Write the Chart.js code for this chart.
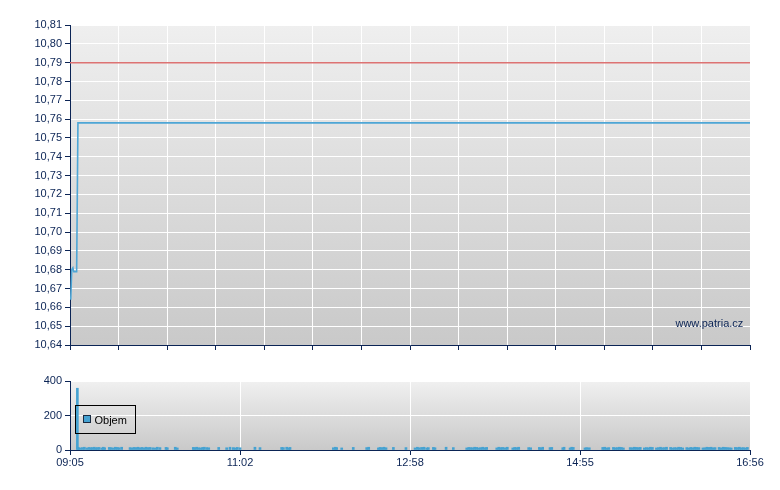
<!DOCTYPE html>
<html><head><meta charset="utf-8">
<script src="https://cdn.jsdelivr.net/npm/chart.js@4.4.0/dist/chart.umd.min.js"></script>
<style>
html,body{margin:0;padding:0;background:#fff;width:780px;height:490px;overflow:hidden}
#top{position:absolute;left:0;top:0;width:780px;height:360px}
#bot{position:absolute;left:0;top:360px;width:780px;height:130px}
</style></head><body>
<div id="top"><canvas id="c1" width="780" height="360"></canvas></div>
<div id="bot"><canvas id="c2" width="780" height="130"></canvas></div>
<script>
// minutes since 09:05
const sessionMinutes = 471;
const priceTimes  = [0.5, 1.2, 2.0, 2.6, 4.6, 5.5, 471];
const priceValues = [10.664, 10.680, 10.681, 10.679, 10.679, 10.758, 10.758];
const referencePrice = 10.79;
const priceTicks = [10.64,10.65,10.66,10.67,10.68,10.69,10.70,10.71,10.72,10.73,10.74,10.75,10.76,10.77,10.78,10.79,10.80,10.81];
const volumeTicks = [0, 200, 400];
const timeLabels = ['09:05','11:02','12:58','14:55','16:56'];
const volumeTimes = [5.1,
 5.7, 6.9, 8.5, 9.9, 11.6, 13.2, 14.5, 15.4, 16.8, 17.8,
 18.9, 20.1, 22.0, 23.1, 24.0, 27.2, 28.4, 30.0, 31.4, 32.8,
 34.1, 35.8, 41.6, 42.9, 44.3, 45.7, 47.1, 48.5, 49.9, 51.3,
 52.6, 54.0, 55.4, 57.3, 59.1, 60.5, 62.3, 66.5, 67.4, 72.9,
 74.3, 85.4, 86.4, 87.8, 89.2, 90.6, 91.9, 93.0, 94.7, 96.1,
 103.0, 108.5, 110.8, 113.1, 114.5, 115.9, 117.8, 128.1, 131.6, 146.6,
 147.8, 150.1, 151.5, 152.4, 182.4, 183.8, 184.7, 188.2, 196.2, 205.5,
 206.9, 213.6, 214.7, 216.1, 217.5, 218.9, 224.0, 232.7, 239.0, 240.6,
 242.0, 243.6, 245.2, 247.1, 248.2, 251.7, 252.8, 260.5, 265.5, 274.8,
 276.2, 277.6, 279.0, 280.3, 281.7, 283.1, 284.5, 285.9, 287.5, 288.6,
 295.6, 297.0, 298.3, 299.7, 301.5, 302.9, 306.7, 308.0, 309.4, 310.8,
 317.7, 319.1, 325.1, 326.1, 327.4, 332.5, 333.7, 341.3, 342.2, 346.4,
 347.5, 348.6, 356.7, 357.9, 359.7, 369.0, 370.4, 371.8, 373.2, 376.4,
 377.7, 379.1, 380.5, 381.9, 383.3, 388.0, 389.4, 390.8, 392.2, 393.6,
 395.0, 397.8, 399.2, 400.6, 402.0, 403.4, 406.2, 407.6, 409.0, 410.4,
 411.8, 413.2, 416.0, 417.4, 418.8, 420.2, 421.6, 423.0, 424.4, 427.2,
 428.6, 430.0, 431.4, 432.8, 434.2, 435.6, 438.4, 439.8, 441.2, 442.6,
 444.0, 445.4, 446.8, 449.6, 451.0, 452.4, 453.8, 455.2, 456.6, 458.0,
 460.8, 462.2, 463.6, 465.0, 466.4, 467.8, 469.2];
const volumeValues = [358,
 15,12,14,16,12,15,13,14,16,12,
 14,15,12,16,13,15,14,12,16,15,
 13,16,14,12,15,14,16,13,15,12,
 16,14,15,13,12,16,14,15,13,16,
 12,15,14,16,13,12,15,16,14,13,
 15,13,16,14,12,15,13,16,14,15,
 14,16,12,15,13,16,14,12,15,14,
 16,12,15,14,16,13,15,14,12,16,
 13,15,16,12,14,15,13,16,14,12,
 15,14,13,16,15,12,14,16,13,15,
 12,16,14,15,13,16,12,15,14,16,
 14,13,15,12,16,14,15,13,16,12,
 16,15,12,14,13,15,16,12,14,15,
 13,14,16,15,12,14,13,16,15,14,
 15,12,14,13,16,15,12,14,16,13,
 14,16,15,12,14,13,16,15,12,14,
 12,15,13,16,15,14,12,13,16,15,
 16,13,14,15,12,16,15,14,13,12,
 15,14,16,13,14,12,15];

const NAVY = '#0b2455';
const FONT = {family: '"Liberation Sans", Arial, sans-serif', size: 11};
Chart.defaults.font = FONT;
Chart.defaults.color = NAVY;

const bgPlugin = {
  id: 'bg',
  beforeDraw(chart, args, opts) {
    const {ctx, chartArea: a} = chart;
    const g = ctx.createLinearGradient(0, a.top, 0, a.bottom);
    g.addColorStop(0, opts.top); g.addColorStop(1, opts.bottom);
    ctx.save(); ctx.fillStyle = g;
    ctx.fillRect(a.left, a.top, a.right - a.left, a.bottom - a.top);
    ctx.restore();
  }
};
const markPlugin = {
  id: 'mark',
  afterDraw(chart, args, opts) {
    const {ctx, chartArea: a} = chart;
    ctx.save();
    ctx.font = '11px "Liberation Sans", Arial, sans-serif';
    ctx.fillStyle = NAVY; ctx.textAlign = 'right'; ctx.textBaseline = 'alphabetic';
    ctx.fillText(opts.text, a.right - 6.7, a.bottom - 18.3);
    ctx.restore();
  }
};
const boxLegend = {
  id: 'boxLegend',
  afterDraw(chart) {
    const {ctx, chartArea: a} = chart;
    const ds = chart.data.datasets[0];
    ctx.save();
    ctx.strokeStyle = '#000'; ctx.lineWidth = 1;
    ctx.strokeRect(a.left + 5.5, a.top + 24.5, 60, 28);
    ctx.fillStyle = ds.backgroundColor;
    ctx.fillRect(a.left + 13, a.top + 34, 8, 8);
    ctx.strokeStyle = '#1a2a40';
    ctx.strokeRect(a.left + 13.5, a.top + 34.5, 7, 7);
    ctx.fillStyle = '#000';
    ctx.font = '11px "Liberation Sans", Arial, sans-serif';
    ctx.textAlign = 'left'; ctx.textBaseline = 'middle';
    ctx.fillText(ds.label, a.left + 24.5, a.top + 39.5);
    ctx.restore();
  }
};

function evenTicks(n) {
  const t = [];
  for (let i = 0; i <= n; i++) t.push({value: sessionMinutes * i / n});
  return t;
}

new Chart(document.getElementById('c1'), {
  type: 'line',
  data: {
    datasets: [
      {label: 'Reference', data: [{x: 0, y: referencePrice}, {x: sessionMinutes, y: referencePrice}],
       borderColor: '#dd7373', borderWidth: 1.5, pointRadius: 0},
      {label: 'Cena', data: priceTimes.map((t, i) => ({x: t, y: priceValues[i]})),
       borderColor: '#4ea6d6', borderWidth: 1.6, pointRadius: 0, tension: 0}
    ]
  },
  options: {
    responsive: false, animation: false, devicePixelRatio: 1,
    layout: {padding: {left: 0, right: 30, top: 25, bottom: 0}},
    plugins: {legend: {display: false}, tooltip: {enabled: false},
      bg: {top: '#efefef', bottom: '#c9c9c9'}, mark: {text: 'www.patria.cz'}},
    scales: {
      x: {type: 'linear', min: 0, max: sessionMinutes, offset: false,
        afterBuildTicks: s => { s.ticks = evenTicks(14); },
        afterFit: s => { s.height = 15; },
        ticks: {display: false},
        grid: {color: '#ffffff', lineWidth: 1, tickColor: NAVY, tickLength: 5, drawTicks: true, offset: false},
        border: {color: NAVY, width: 1}},
      y: {min: priceTicks[0], max: priceTicks[priceTicks.length - 1],
        afterBuildTicks: s => { s.ticks = priceTicks.map(v => ({value: v})); },
        afterFit: s => { s.width = 70; },
        ticks: {padding: 3, color: NAVY, callback: v => Number(v).toFixed(2).replace('.', ',')},
        grid: {color: '#ffffff', lineWidth: 1, tickColor: NAVY, tickLength: 5},
        border: {color: NAVY, width: 1}}
    }
  },
  plugins: [bgPlugin, markPlugin]
});

new Chart(document.getElementById('c2'), {
  type: 'bar',
  data: {
    datasets: [{label: 'Objem', data: volumeTimes.map((t, i) => ({x: t, y: volumeValues[i]})),
      backgroundColor: '#45a2d2', borderWidth: 0, barThickness: 2}]
  },
  options: {
    responsive: false, animation: false, devicePixelRatio: 1,
    layout: {padding: {left: 0, right: 30, top: 21, bottom: 0}},
    plugins: {legend: {display: false}, tooltip: {enabled: false},
      bg: {top: '#f0f0f0', bottom: '#c9c9c9'}},
    scales: {
      x: {type: 'linear', min: 0, max: sessionMinutes, offset: false,
        afterBuildTicks: s => { s.ticks = evenTicks(4); },
        afterFit: s => { s.height = 40; },
        ticks: {padding: 1, color: NAVY, maxRotation: 0, autoSkip: false,
          callback: (v, i) => timeLabels[i]},
        grid: {color: '#ffffff', lineWidth: 1, tickColor: NAVY, tickLength: 5, offset: false},
        border: {color: NAVY, width: 1}},
      y: {min: volumeTicks[0], max: volumeTicks[volumeTicks.length - 1],
        afterBuildTicks: s => { s.ticks = volumeTicks.map(v => ({value: v})); },
        afterFit: s => { s.width = 70; },
        ticks: {padding: 3, color: NAVY},
        grid: {color: '#ffffff', lineWidth: 1, tickColor: NAVY, tickLength: 5},
        border: {color: NAVY, width: 1}}
    }
  },
  plugins: [bgPlugin, boxLegend]
});
</script>
</body></html>
